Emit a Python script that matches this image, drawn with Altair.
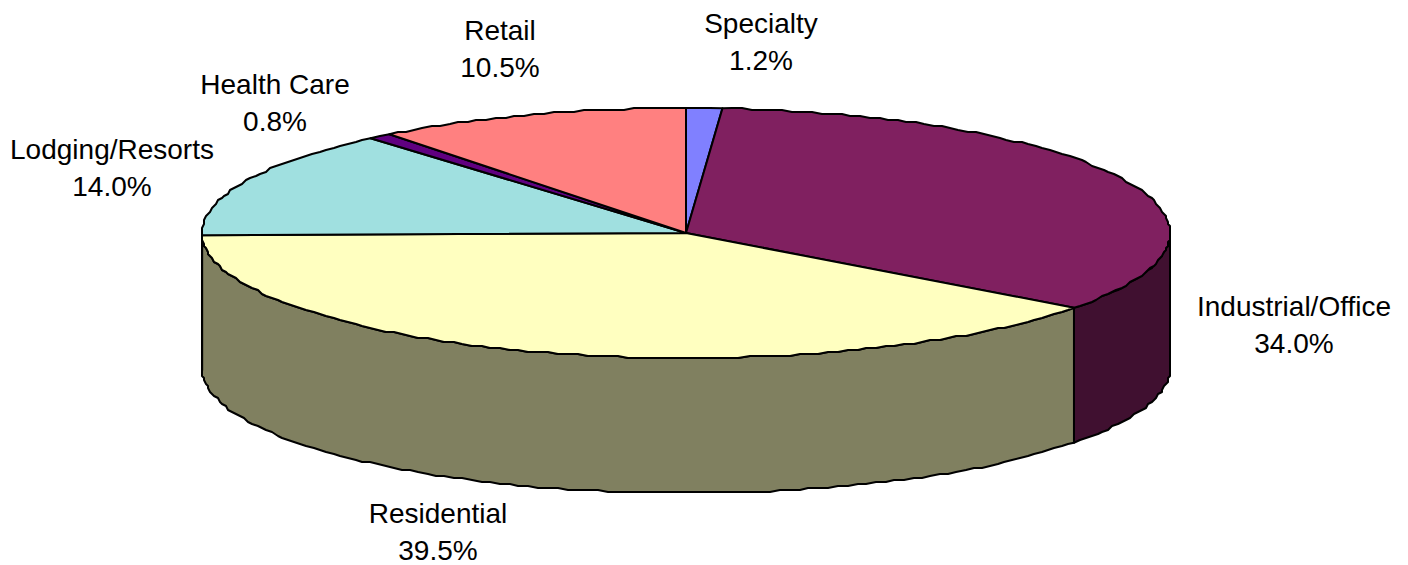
import math
import altair as alt

categories = ["Specialty", "Industrial/Office", "Residential", "Lodging/Resorts", "Health Care", "Retail"]
shares = [1.2, 34.0, 39.5, 14.0, 0.8, 10.5]
top_colors = ["#8080FF", "#802060", "#FFFFC0", "#A0E0E0", "#600080", "#FF8080"]
wall_colors = ["#404080", "#401030", "#808060", "#507070", "#300040", "#804040"]

# Pie geometry, in chart pixels
CX, CY, RX, RY, DEPTH = 678, 225, 484, 125, 135
GRID = 2.0
STEP = 1.2

label_pos = {
    "Specialty": (753, 25), "Industrial/Office": (1286, 308), "Residential": (430, 515),
    "Lodging/Resorts": (104, 151), "Health Care": (267, 86), "Retail": (492, 32),
}
LINE_GAP = 37


def q(v):
    return round(v / GRID) * GRID


def rim(a0, a1, dy=0.0):
    n = max(1, int(abs(a1 - a0) / STEP))
    pts = []
    for i in range(n + 1):
        a = math.radians(a0 + (a1 - a0) * i / n)
        x, y = CX + RX * math.sin(a), CY - RY * math.cos(a) + dy
        if 0 < i < n:
            x, y = q(x), q(y)
        pts.append([x, y])
    return pts


def feature(ring, fill):
    ring = ring + [ring[0]]
    return {"type": "Feature", "geometry": {"type": "Polygon", "coordinates": [ring]},
            "properties": {"fill": fill}}


walls, tops = [], []
start = 0.0
for share, top, wall in zip(shares, top_colors, wall_colors):
    a0, a1 = start, start + share * 3.6
    start = a1
    lo, hi = max(a0, 90.0), min(a1, 270.0)
    if hi > lo:
        upper = rim(lo, hi)
        lower = rim(hi, lo, DEPTH)
        walls.append(feature(upper + lower, wall))
    tops.append(feature([[CX, CY]] + rim(a0, a1), top))

projection = alt.Projection(type="identity", scale=1, translate=[0, 0])

pie = (
    alt.Chart(alt.Data(values=walls + tops))
    .mark_geoshape(stroke="black", strokeWidth=2, strokeJoin="round")
    .encode(fill=alt.Color("properties.fill:N", scale=None))
    .project(**projection.to_dict())
)

rows = []
for name, share in zip(categories, shares):
    x, y = label_pos[name]
    rows.append({"t": name, "px": x, "py": y})
    rows.append({"t": f"{share:.1f}%", "px": x, "py": y + LINE_GAP})

labels = (
    alt.Chart(alt.Data(values=rows))
    .mark_text(font="Liberation Sans", fontSize=28, color="black", align="center", baseline="alphabetic")
    .encode(
        x=alt.X("px:Q", scale=None, axis=None),
        y=alt.Y("py:Q", scale=None, axis=None),
        text="t:N",
    )
)

chart = (
    alt.layer(pie, labels)
    .resolve_scale(x="independent", y="independent")
    .properties(width=1392, height=559, padding=0, autosize=alt.AutoSizeParams(type="none"), background="white")
    .configure_view(stroke=None)
)
chart.save("out.html", embed_options={"renderer": "svg", "actions": False})
